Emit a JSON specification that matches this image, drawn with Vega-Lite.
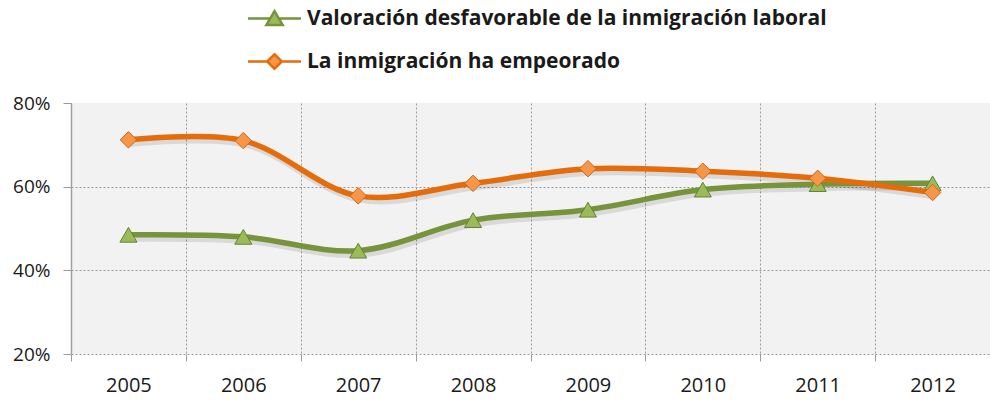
{
  "$schema": "https://vega.github.io/schema/vega-lite/v6.json",
  "autosize": {"type": "none"},
  "width": 919,
  "height": 251,
  "padding": {"left": 71, "top": 103, "right": 0, "bottom": 47},
  "background": "white",
  "config": {
    "view": {"fill": "#F2F2F2", "stroke": null},
    "font": "Open Sans"
  },
  "data": {
    "values": [
      {"year": "2005", "serie": "Valoración desfavorable de la inmigración laboral", "value": 0.485},
      {"year": "2006", "serie": "Valoración desfavorable de la inmigración laboral", "value": 0.48},
      {"year": "2007", "serie": "Valoración desfavorable de la inmigración laboral", "value": 0.447},
      {"year": "2008", "serie": "Valoración desfavorable de la inmigración laboral", "value": 0.52},
      {"year": "2009", "serie": "Valoración desfavorable de la inmigración laboral", "value": 0.545},
      {"year": "2010", "serie": "Valoración desfavorable de la inmigración laboral", "value": 0.593},
      {"year": "2011", "serie": "Valoración desfavorable de la inmigración laboral", "value": 0.606},
      {"year": "2012", "serie": "Valoración desfavorable de la inmigración laboral", "value": 0.608},
      {"year": "2005", "serie": "La inmigración ha empeorado", "value": 0.712},
      {"year": "2006", "serie": "La inmigración ha empeorado", "value": 0.71},
      {"year": "2007", "serie": "La inmigración ha empeorado", "value": 0.578},
      {"year": "2008", "serie": "La inmigración ha empeorado", "value": 0.608},
      {"year": "2009", "serie": "La inmigración ha empeorado", "value": 0.643},
      {"year": "2010", "serie": "La inmigración ha empeorado", "value": 0.637},
      {"year": "2011", "serie": "La inmigración ha empeorado", "value": 0.62},
      {"year": "2012", "serie": "La inmigración ha empeorado", "value": 0.586}
    ]
  },
  "encoding": {
    "x": {
      "field": "year", "type": "ordinal",
      "scale": {"type": "band", "paddingInner": 0, "paddingOuter": 0},
      "axis": {
        "title": null, "labelAngle": 0, "tickBand": "extent",
        "grid": true, "gridDash": [2, 2], "gridColor": "#9a9a9a", "gridWidth": 1,
        "domain": false, "ticks": true, "tickSize": 7, "tickColor": "#9a9a9a",
        "labelFont": "Open Sans", "labelFontSize": 20, "labelColor": "#1a1a1a",
        "labelPadding": 14
      }
    },
    "y": {
      "field": "value", "type": "quantitative",
      "scale": {"domain": [0.2, 0.8], "nice": false, "zero": false},
      "axis": {
        "title": null, "values": [0.2, 0.4, 0.6, 0.8], "format": ".0%",
        "grid": true, "gridDash": [2, 2], "gridWidth": 1,
        "gridColor": {"condition": {"test": "datum.value > 0.79", "value": "transparent"}, "value": "#9a9a9a"},
        "domain": true, "domainColor": "#a0a0a0", "domainWidth": 1.5,
        "ticks": true, "tickSize": 8, "tickColor": "#9a9a9a",
        "labelFont": "Open Sans", "labelFontSize": 19, "labelColor": "#1a1a1a",
        "labelPadding": 13
      }
    }
  },
  "layer": [
    {
      "mark": {"type": "line", "interpolate": "catmull-rom", "strokeWidth": 6, "stroke": "#000000", "opacity": 0.1, "yOffset": 4, "xOffset": 2},
      "encoding": {"detail": {"field": "serie"}}
    },
    {
      "mark": {"type": "point", "opacity": 0, "filled": true, "size": 702, "strokeWidth": 2.5},
      "encoding": {
        "fill": {
          "field": "serie", "type": "nominal",
          "scale": {
            "domain": ["Valoración desfavorable de la inmigración laboral", "La inmigración ha empeorado"],
            "range": ["#9BBB59", "#F79646"]
          },
          "legend": {
            "title": null, "orient": "none", "legendX": 189, "legendY": -99,
            "direction": "vertical", "labelFont": "Open Sans", "labelFontSize": 21,
            "labelFontWeight": "bold", "labelColor": "#1a1a1a", "labelOffset": 18,
            "rowPadding": 16, "symbolStrokeWidth": 2.5, "symbolOpacity": 1, "symbolSize": 702,
            "labelLimit": 700
          }
        },
        "stroke": {
          "field": "serie", "type": "nominal",
          "scale": {
            "domain": ["Valoración desfavorable de la inmigración laboral", "La inmigración ha empeorado"],
            "range": ["#77933C", "#E46C0A"]
          },
          "legend": {
            "title": null, "orient": "none", "legendX": 189, "legendY": -99,
            "direction": "vertical", "labelFont": "Open Sans", "labelFontSize": 21,
            "labelFontWeight": "bold", "labelColor": "#1a1a1a", "labelOffset": 18,
            "rowPadding": 16, "symbolStrokeWidth": 2.5, "symbolOpacity": 1, "symbolSize": 702,
            "labelLimit": 700
          }
        },
        "shape": {
          "field": "serie", "type": "nominal",
          "scale": {
            "domain": ["Valoración desfavorable de la inmigración laboral", "La inmigración ha empeorado"],
            "range": [
              "M-2,0H-0.33M0.33,0H2M-0.62,0.5L0,-0.55L0.62,0.5Z",
              "M-2,0H-0.55M0.55,0H2M0,-0.55L0.55,0L0,0.55L-0.55,0Z"
            ]
          },
          "legend": {
            "title": null, "orient": "none", "legendX": 189, "legendY": -99,
            "direction": "vertical", "labelFont": "Open Sans", "labelFontSize": 21,
            "labelFontWeight": "bold", "labelColor": "#1a1a1a", "labelOffset": 18,
            "rowPadding": 16, "symbolStrokeWidth": 2.5, "symbolOpacity": 1, "symbolSize": 702,
            "labelLimit": 700
          }
        }
      }
    },
    {
      "transform": [{"filter": "datum.serie === 'Valoración desfavorable de la inmigración laboral'"}],
      "mark": {"type": "line", "interpolate": "catmull-rom", "strokeWidth": 5.5, "stroke": "#77933C"}
    },
    {
      "transform": [{"filter": "datum.serie === 'Valoración desfavorable de la inmigración laboral'"}],
      "mark": {"type": "point", "shape": "triangle-up", "size": 290, "filled": true, "fill": "#9BBB59", "stroke": "#66803A", "strokeWidth": 1, "opacity": 1}
    },
    {
      "transform": [{"filter": "datum.serie === 'La inmigración ha empeorado'"}],
      "mark": {"type": "line", "interpolate": "catmull-rom", "strokeWidth": 5.5, "stroke": "#E46C0A"}
    },
    {
      "transform": [{"filter": "datum.serie === 'La inmigración ha empeorado'"}],
      "mark": {"type": "point", "shape": "diamond", "size": 270, "filled": true, "fill": "#F79646", "stroke": "#D0661A", "strokeWidth": 1, "opacity": 1}
    }
  ]
}
